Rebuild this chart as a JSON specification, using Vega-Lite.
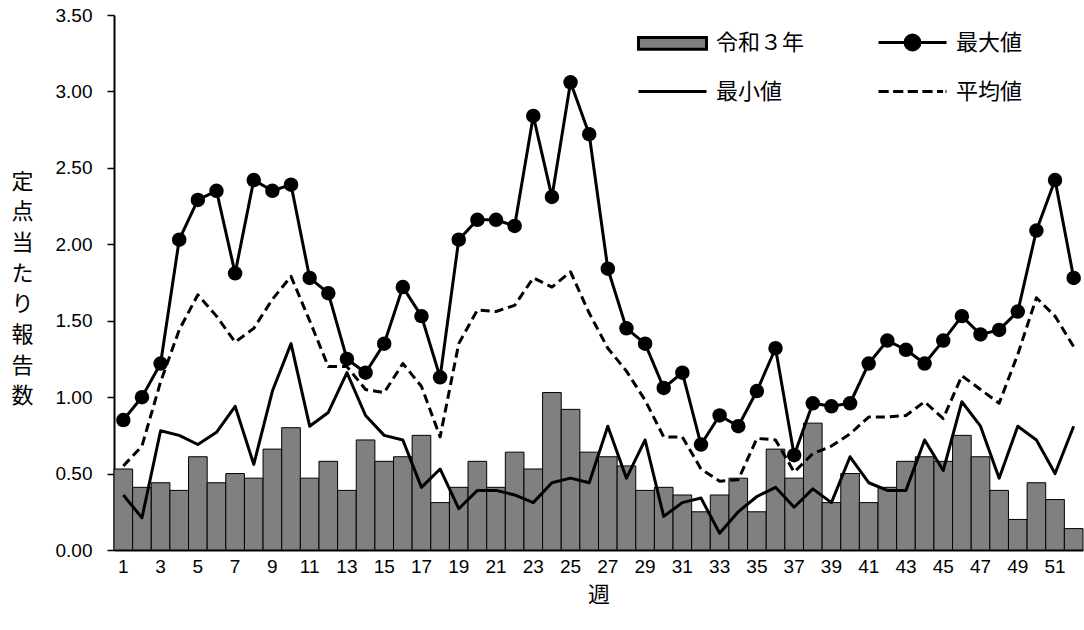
{
  "$schema": "https://vega.github.io/schema/vega-lite/v6.json",
  "width": 969,
  "height": 535,
  "autosize": {"type": "none"},
  "padding": {"left": 114, "top": 15, "right": 1, "bottom": 80},
  "background": "white",
  "config": {
    "view": {"stroke": null},
    "axis": {"grid": false, "domainColor": "black", "tickColor": "black", "labelColor": "black", "titleColor": "black"},
    "axisY": {
      "labelFont": "Liberation Sans",
      "labelFontSize": 19,
      "labelPadding": 15,
      "tickSize": 7,
      "tickWidth": 1.5,
      "domainWidth": 2,
      "titleAngle": 0,
      "titleFont": "Noto Sans CJK JP",
      "titleFontSize": 22,
      "titleFontWeight": "normal",
      "titleLineHeight": 30.7,
      "titleX": -92,
      "titleY": 166,
      "titleAlign": "center",
      "titleBaseline": "middle"
    }
  },
  "data": {
    "values": [
      {"週": 1, "令和３年": 0.53, "最大値": 0.85, "最小値": 0.36, "平均値": 0.55},
      {"週": 2, "令和３年": 0.41, "最大値": 1.00, "最小値": 0.21, "平均値": 0.68},
      {"週": 3, "令和３年": 0.44, "最大値": 1.22, "最小値": 0.78, "平均値": 1.10},
      {"週": 4, "令和３年": 0.39, "最大値": 2.03, "最小値": 0.75, "平均値": 1.44},
      {"週": 5, "令和３年": 0.61, "最大値": 2.29, "最小値": 0.69, "平均値": 1.67},
      {"週": 6, "令和３年": 0.44, "最大値": 2.35, "最小値": 0.77, "平均値": 1.53},
      {"週": 7, "令和３年": 0.50, "最大値": 1.81, "最小値": 0.94, "平均値": 1.36},
      {"週": 8, "令和３年": 0.47, "最大値": 2.42, "最小値": 0.56, "平均値": 1.45},
      {"週": 9, "令和３年": 0.66, "最大値": 2.35, "最小値": 1.04, "平均値": 1.64},
      {"週": 10, "令和３年": 0.80, "最大値": 2.39, "最小値": 1.35, "平均値": 1.79},
      {"週": 11, "令和３年": 0.47, "最大値": 1.78, "最小値": 0.81, "平均値": 1.50},
      {"週": 12, "令和３年": 0.58, "最大値": 1.68, "最小値": 0.90, "平均値": 1.20},
      {"週": 13, "令和３年": 0.39, "最大値": 1.25, "最小値": 1.16, "平均値": 1.20},
      {"週": 14, "令和３年": 0.72, "最大値": 1.16, "最小値": 0.88, "平均値": 1.05},
      {"週": 15, "令和３年": 0.58, "最大値": 1.35, "最小値": 0.75, "平均値": 1.03},
      {"週": 16, "令和３年": 0.61, "最大値": 1.72, "最小値": 0.72, "平均値": 1.22},
      {"週": 17, "令和３年": 0.75, "最大値": 1.53, "最小値": 0.41, "平均値": 1.07},
      {"週": 18, "令和３年": 0.31, "最大値": 1.13, "最小値": 0.53, "平均値": 0.74},
      {"週": 19, "令和３年": 0.41, "最大値": 2.03, "最小値": 0.27, "平均値": 1.35},
      {"週": 20, "令和３年": 0.58, "最大値": 2.16, "最小値": 0.39, "平均値": 1.57},
      {"週": 21, "令和３年": 0.41, "最大値": 2.16, "最小値": 0.39, "平均値": 1.56},
      {"週": 22, "令和３年": 0.64, "最大値": 2.12, "最小値": 0.36, "平均値": 1.60},
      {"週": 23, "令和３年": 0.53, "最大値": 2.84, "最小値": 0.31, "平均値": 1.78},
      {"週": 24, "令和３年": 1.03, "最大値": 2.31, "最小値": 0.44, "平均値": 1.72},
      {"週": 25, "令和３年": 0.92, "最大値": 3.06, "最小値": 0.47, "平均値": 1.82},
      {"週": 26, "令和３年": 0.64, "最大値": 2.72, "最小値": 0.44, "平均値": 1.55},
      {"週": 27, "令和３年": 0.61, "最大値": 1.84, "最小値": 0.81, "平均値": 1.32},
      {"週": 28, "令和３年": 0.55, "最大値": 1.45, "最小値": 0.47, "平均値": 1.17},
      {"週": 29, "令和３年": 0.39, "最大値": 1.35, "最小値": 0.72, "平均値": 0.98},
      {"週": 30, "令和３年": 0.41, "最大値": 1.06, "最小値": 0.22, "平均値": 0.74},
      {"週": 31, "令和３年": 0.36, "最大値": 1.16, "最小値": 0.31, "平均値": 0.74},
      {"週": 32, "令和３年": 0.25, "最大値": 0.69, "最小値": 0.34, "平均値": 0.53},
      {"週": 33, "令和３年": 0.36, "最大値": 0.88, "最小値": 0.11, "平均値": 0.45},
      {"週": 34, "令和３年": 0.47, "最大値": 0.81, "最小値": 0.25, "平均値": 0.46},
      {"週": 35, "令和３年": 0.25, "最大値": 1.04, "最小値": 0.35, "平均値": 0.73},
      {"週": 36, "令和３年": 0.66, "最大値": 1.32, "最小値": 0.41, "平均値": 0.72},
      {"週": 37, "令和３年": 0.47, "最大値": 0.62, "最小値": 0.28, "平均値": 0.51},
      {"週": 38, "令和３年": 0.83, "最大値": 0.96, "最小値": 0.40, "平均値": 0.63},
      {"週": 39, "令和３年": 0.31, "最大値": 0.94, "最小値": 0.31, "平均値": 0.68},
      {"週": 40, "令和３年": 0.50, "最大値": 0.96, "最小値": 0.61, "平均値": 0.76},
      {"週": 41, "令和３年": 0.31, "最大値": 1.22, "最小値": 0.44, "平均値": 0.87},
      {"週": 42, "令和３年": 0.41, "最大値": 1.37, "最小値": 0.39, "平均値": 0.87},
      {"週": 43, "令和３年": 0.58, "最大値": 1.31, "最小値": 0.39, "平均値": 0.88},
      {"週": 44, "令和３年": 0.61, "最大値": 1.22, "最小値": 0.72, "平均値": 0.97},
      {"週": 45, "令和３年": 0.58, "最大値": 1.37, "最小値": 0.52, "平均値": 0.86},
      {"週": 46, "令和３年": 0.75, "最大値": 1.53, "最小値": 0.97, "平均値": 1.14},
      {"週": 47, "令和３年": 0.61, "最大値": 1.41, "最小値": 0.81, "平均値": 1.05},
      {"週": 48, "令和３年": 0.39, "最大値": 1.44, "最小値": 0.47, "平均値": 0.96},
      {"週": 49, "令和３年": 0.20, "最大値": 1.56, "最小値": 0.81, "平均値": 1.28},
      {"週": 50, "令和３年": 0.44, "最大値": 2.09, "最小値": 0.72, "平均値": 1.65},
      {"週": 51, "令和３年": 0.33, "最大値": 2.42, "最小値": 0.50, "平均値": 1.53},
      {"週": 52, "令和３年": 0.14, "最大値": 1.78, "最小値": 0.81, "平均値": 1.33}
    ]
  },
  "encoding": {
    "x": {
      "field": "週",
      "type": "ordinal",
      "scale": {"paddingInner": 0, "paddingOuter": 0},
      "axis": {
        "title": "週",
        "values": [1, 3, 5, 7, 9, 11, 13, 15, 17, 19, 21, 23, 25, 27, 29, 31, 33, 35, 37, 39, 41, 43, 45, 47, 49, 51],
        "labelAngle": 0,
        "labelFont": "Liberation Sans",
        "labelFontSize": 19,
        "labelPadding": 7,
        "ticks": false,
        "domainWidth": 2,
        "titleFont": "Noto Sans CJK JP",
        "titleFontSize": 22,
        "titleFontWeight": "normal",
        "titlePadding": 8
      }
    }
  },
  "layer": [
    {
      "mark": {"type": "bar", "fill": "#808080", "stroke": "black", "strokeWidth": 1},
      "encoding": {
        "y": {
          "field": "令和３年",
          "type": "quantitative",
          "scale": {"domain": [0, 3.5], "nice": false},
          "axis": {"title": ["定", "点", "当", "た", "り", "報", "告", "数"], "values": [0, 0.5, 1, 1.5, 2, 2.5, 3, 3.5], "format": ".2f"}
        }
      }
    },
    {
      "mark": {"type": "line", "color": "black", "strokeWidth": 3, "strokeJoin": "round"},
      "encoding": {
        "y": {
          "field": "最小値",
          "type": "quantitative",
          "scale": {"domain": [0, 3.5], "nice": false},
          "axis": {"title": ["定", "点", "当", "た", "り", "報", "告", "数"], "values": [0, 0.5, 1, 1.5, 2, 2.5, 3, 3.5], "format": ".2f"}
        }
      }
    },
    {
      "mark": {"type": "line", "color": "black", "strokeWidth": 3, "strokeDash": [9, 5], "strokeJoin": "round"},
      "encoding": {
        "y": {
          "field": "平均値",
          "type": "quantitative",
          "scale": {"domain": [0, 3.5], "nice": false},
          "axis": {"title": ["定", "点", "当", "た", "り", "報", "告", "数"], "values": [0, 0.5, 1, 1.5, 2, 2.5, 3, 3.5], "format": ".2f"}
        }
      }
    },
    {
      "mark": {"type": "line", "color": "black", "strokeWidth": 3, "strokeJoin": "round", "point": {"filled": true, "size": 210, "color": "black", "opacity": 1}},
      "encoding": {
        "y": {
          "field": "最大値",
          "type": "quantitative",
          "scale": {"domain": [0, 3.5], "nice": false},
          "axis": {"title": ["定", "点", "当", "た", "り", "報", "告", "数"], "values": [0, 0.5, 1, 1.5, 2, 2.5, 3, 3.5], "format": ".2f"}
        }
      }
    },
    {
      "transform": [{"fold": ["令和３年", "最大値", "最小値", "平均値"], "as": ["系列", "値"]}],
      "mark": {"type": "point", "opacity": 0, "size": 4624, "filled": true, "strokeWidth": 3},
      "encoding": {
        "y": {
          "field": "値",
          "type": "quantitative",
          "scale": {"domain": [0, 3.5], "nice": false},
          "axis": {"title": ["定", "点", "当", "た", "り", "報", "告", "数"], "values": [0, 0.5, 1, 1.5, 2, 2.5, 3, 3.5], "format": ".2f"}
        },
        "shape": {
          "field": "系列",
          "type": "nominal",
          "scale": {
            "domain": ["令和３年", "最小値", "最大値", "平均値"],
            "range": [
              "M-1,-0.17H1V0.17H-1Z",
              "M-1,0H1",
              "M-1,0H1M-0.22,0A0.22,0.22 0 1,0 0.22,0A0.22,0.22 0 1,0 -0.22,0Z",
              "M-1,0H-0.7M-0.57,0H-0.27M-0.14,0H0.16M0.29,0H0.59M0.72,0H0.9M0.97,0H1"
            ]
          },
          "legend": {
            "title": null,
            "orient": "none",
            "legendX": 523,
            "legendY": -8,
            "columns": 2,
            "columnPadding": 67,
            "rowPadding": -4,
            "padding": 0,
            "symbolSize": 4624,
            "symbolOpacity": 1,
            "symbolStrokeWidth": 3,
            "symbolStrokeColor": "black",
            "labelFont": "Noto Sans CJK JP",
            "labelFontSize": 22,
            "labelColor": "black",
            "labelOffset": 8,
            "labelLimit": 0,
            "encode": {
              "symbols": {
                "update": {
                  "opacity": {"value": 1},
                  "strokeWidth": {"signal": "datum.value === '令和３年' ? 1.2 : 3"}
                }
              }
            }
          }
        },
        "fill": {
          "field": "系列",
          "type": "nominal",
          "scale": {
            "domain": ["令和３年", "最小値", "最大値", "平均値"],
            "range": ["#808080", "black", "black", "black"]
          }
        },
        "stroke": {
          "field": "系列",
          "type": "nominal",
          "scale": {
            "domain": ["令和３年", "最小値", "最大値", "平均値"],
            "range": ["black", "black", "black", "black"]
          }
        }
      }
    }
  ]
}
